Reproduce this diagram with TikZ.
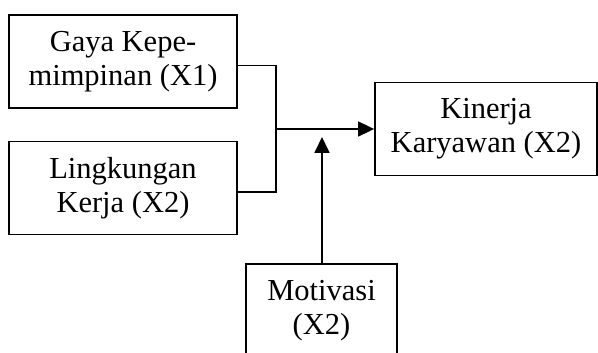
\documentclass[tikz,border=0pt]{standalone}
\usepackage{fontspec}
\setmainfont{Liberation Serif}
\usetikzlibrary{positioning,arrows.meta}

\begin{document}
\begin{tikzpicture}[x=1pt,y=1pt,line width=1.8pt,
    >={Triangle[length=16pt,width=15pt]},
    box/.style={draw=black,align=center,inner sep=0pt,minimum height=93pt,
      font=\fontsize{30.5}{34}\selectfont}]
  \clip (0,0) rectangle (598,353);
  \node[box,minimum width=228pt] (X1) at (123,291.5) {Gaya Kepe-\\mimpinan (X1)};
  \node[box,minimum width=228pt] (X2) at (123,165) {Lingkungan\\Kerja (X2)};
  \node[box,minimum width=222pt] (Y)  at (486,224) {Kinerja\\Karyawan (X2)};
  \node[box,minimum width=151pt,anchor=north] (Z) at (321.5,90) {Motivasi\\(X2)};
  \coordinate (J) at (276,224);
  \coordinate (T) at (322,216);
  \draw ([yshift=-4pt]X1.east) -| (J);
  \draw ([yshift=-4pt]X2.east) -| (J);
  \draw[->] (J) -- (Y.west);
  \draw[->] (Z.north -| T) -- (T);
\end{tikzpicture}
\end{document}
